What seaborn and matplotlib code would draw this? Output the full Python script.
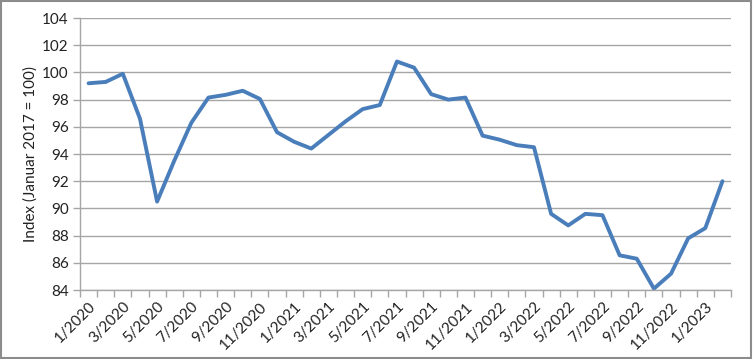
import numpy as np
import pandas as pd
import matplotlib
matplotlib.use("Agg")
import matplotlib.pyplot as plt
import seaborn as sns
from matplotlib.patches import Rectangle

# monthly index values, 1/2020 .. 2/2023
months = [f"{m}/{y}" for y in (2020, 2021, 2022) for m in range(1, 13)] + ["1/2023", "2/2023"]
index_values = [99.2, 99.3, 99.9, 96.6, 90.5, 93.5, 96.3, 98.15, 98.35, 98.65, 98.05, 95.6,
                94.9, 94.4, 95.4, 96.4, 97.3, 97.6, 100.8, 100.35, 98.4, 98.0, 98.15, 95.35,
                95.05, 94.65, 94.5, 89.6, 88.75, 89.6, 89.5, 86.55, 86.3, 84.1, 85.2, 87.8,
                88.55, 92.0]
y_ticks = list(range(84, 105, 2))

df = pd.DataFrame({"pos": np.arange(len(months)), "month": months, "value": index_values})

sns.set_style("white")
plt.rcParams["font.family"] = ["Lato", "DejaVu Sans"]

fig = plt.figure(figsize=(7.53, 3.59), dpi=100)
ax = fig.add_axes([80 / 753, 1 - 290 / 359, 651 / 753, 272 / 359])

sns.lineplot(data=df, x="pos", y="value", ax=ax, color="#4a7ebb", linewidth=2.8)

ax.set_xlim(-0.5, len(months) - 0.5)
ax.set_ylim(84, 104)
ax.set_yticks(y_ticks)
ax.yaxis.grid(True, color="#a6a6a6", linewidth=1)
ax.set_axisbelow(True)

# category boundaries as tick marks, labels in the middle of every second month
ax.set_xticks(np.arange(-0.5, len(months), 1))
ax.set_xticklabels([])
ax.set_xticks(df["pos"][::2], minor=True)
ax.set_xticklabels(df["month"][::2], minor=True, rotation=45, ha="right",
                   rotation_mode="anchor", fontsize=11, color="#222222")
ax.tick_params(axis="x", which="major", length=5, width=1, color="#a6a6a6", direction="out")
ax.tick_params(axis="x", which="minor", length=0, pad=7)
ax.tick_params(axis="y", length=5, width=1, color="#a6a6a6", direction="out",
               labelsize=11, labelcolor="#222222", pad=3)
ax.tick_params(bottom=True, left=True)

for s in ("top", "right"):
    ax.spines[s].set_visible(False)
for s in ("left", "bottom"):
    ax.spines[s].set_color("#a6a6a6")
    ax.spines[s].set_linewidth(1)

ax.set_xlabel("")
ax.set_ylabel("Index (Januar 2017 = 100)", fontsize=11, color="#222222", labelpad=3)

fig.patches.append(Rectangle((0.001, 0.002), 0.997, 0.995, transform=fig.transFigure,
                             fill=False, edgecolor="#8c8c8c", linewidth=1.5))

fig.savefig("out.png", dpi=100)
